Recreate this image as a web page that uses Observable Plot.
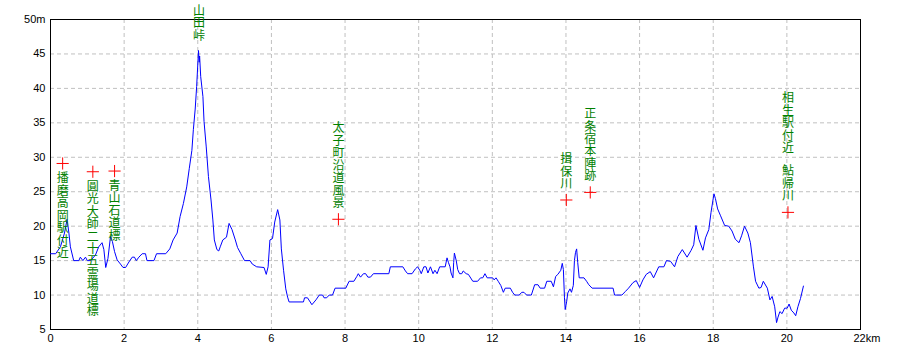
<!DOCTYPE html>
<html>
<head>
<meta charset="utf-8">
<script src="https://cdn.jsdelivr.net/npm/d3@7"></script>
<script src="https://cdn.jsdelivr.net/npm/@observablehq/plot@0.6"></script>
<style>
  html, body { margin: 0; padding: 0; background: #fff; }
  #chart svg { display: block; }
</style>
</head>
<body>
<div id="chart"></div>
<script>
// Distance along route (km)
const km = [
  0, 0.14, 0.27, 0.38, 0.45, 0.5, 0.54, 0.63, 0.77, 0.81, 0.88, 0.95, 1.0, 1.09, 1.22, 1.31, 1.4, 1.45, 1.5, 1.56,
  1.63, 1.68, 1.74, 1.81, 1.9, 1.97, 2.04, 2.13, 2.22, 2.28, 2.33, 2.4, 2.49, 2.58, 2.62, 2.81, 2.88, 3.13, 3.24, 3.33,
  3.44, 3.52, 3.61, 3.7, 3.77, 3.84, 3.88, 3.93, 3.97, 4.02, 4.04, 4.05, 4.08, 4.14, 4.17, 4.23, 4.29, 4.36, 4.41, 4.45,
  4.52, 4.57, 4.61, 4.68, 4.78, 4.85, 4.93, 5.02, 5.08, 5.17, 5.27, 5.42, 5.48, 5.6, 5.8, 5.86, 5.91, 5.96, 6.03, 6.09,
  6.17, 6.23, 6.27, 6.33, 6.39, 6.44, 6.48, 6.87, 6.9, 6.98, 7.1, 7.21, 7.3, 7.39, 7.43, 7.5, 7.57, 7.66, 7.73, 8.02,
  8.11, 8.24, 8.32, 8.36, 8.42, 8.5, 8.56, 8.62, 8.69, 8.77, 9.19, 9.23, 9.57, 9.64, 9.7, 9.82, 9.91, 9.97, 10.03, 10.07,
  10.14, 10.2, 10.25, 10.32, 10.39, 10.44, 10.5, 10.57, 10.72, 10.77, 10.81, 10.85, 10.88, 10.93, 10.95, 10.97, 11.02, 11.06, 11.11, 11.17,
  11.21, 11.29, 11.35, 11.47, 11.6, 11.68, 11.74, 11.8, 11.86, 12.01, 12.05, 12.1, 12.16, 12.23, 12.3, 12.35, 12.49, 12.55, 12.61, 12.73,
  12.8, 12.86, 12.93, 13.06, 13.15, 13.24, 13.3, 13.42, 13.48, 13.6, 13.66, 13.72, 13.78, 13.86, 13.9, 13.93, 13.96, 13.98, 14.02, 14.05,
  14.11, 14.15, 14.2, 14.23, 14.26, 14.29, 14.32, 14.36, 14.49, 14.56, 14.62, 14.71, 15.28, 15.32, 15.52, 15.61, 15.7, 15.82, 15.91, 16.0,
  16.09, 16.18, 16.29, 16.38, 16.52, 16.66, 16.73, 16.84, 16.95, 17.04, 17.16, 17.29, 17.4, 17.47, 17.53, 17.61, 17.72, 17.79, 17.88, 17.94,
  18.02, 18.06, 18.12, 18.2, 18.31, 18.42, 18.51, 18.6, 18.7, 18.77, 18.85, 18.94, 19.01, 19.09, 19.15, 19.24, 19.3, 19.36, 19.47, 19.54,
  19.6, 19.67, 19.72, 19.76, 19.81, 19.87, 19.94, 20.01, 20.06, 20.12, 20.19, 20.24, 20.3, 20.37, 20.45
];
// Elevation (m)
const elev = [
  16, 16, 17, 19, 21, 19, 17, 15, 15, 15.5, 15, 15.5, 15, 15, 15.8, 17, 17.6, 16.6, 14, 15.3,
  18.5, 17.8, 16.3, 15.1, 14.5, 14, 14, 14.8, 15.5, 15.5, 15, 15.5, 16, 16, 15, 15, 16, 16, 16.7, 18,
  19, 21.4, 23.3, 25.7, 28.4, 31, 34, 37, 40.3, 45.5, 43.8, 44.7, 41.7, 38.8, 35.2, 31.5, 27.2, 23.8, 20.9, 18,
  16.6, 16.4, 17, 18, 18.4, 20.4, 19.5, 18, 16.9, 16, 15, 15, 14.5, 14.1, 14, 13, 14.1, 18, 18.2, 20.6,
  22.4, 20.9, 16.7, 13.6, 10.9, 9.7, 9, 9, 9.6, 9.6, 8.6, 9.3, 10, 10, 9.6, 9.6, 10, 10, 11, 11,
  12, 12, 12.7, 13.1, 12.6, 13.1, 13.1, 12.6, 12.6, 13.1, 13.1, 14.1, 14.1, 13.5, 13.1, 13.1, 13.8, 14.1, 13.6, 13.1,
  14.1, 14.1, 13.2, 14.1, 13.1, 13.6, 13.1, 14.1, 14.1, 15.4, 14.7, 14.1, 13.2, 12.5, 14.7, 16.1, 15, 13.7, 13.1, 13.1,
  13.5, 13.1, 13, 12, 12, 12.5, 12.5, 13.1, 12.5, 12.5, 12.2, 12.5, 12, 11.4, 10.4, 11, 11, 10.4, 10, 10,
  10.4, 10.4, 10, 10, 11.5, 11.5, 11, 11, 12, 12, 11.2, 12.7, 13, 13.6, 14.6, 13.7, 9.6, 7.9, 9.1, 10.3,
  10.9, 10.4, 11.4, 15, 16.2, 16.7, 14.7, 12.5, 12.5, 12, 11.5, 11, 11, 10, 10, 10.5, 11, 11.8, 12.1, 11.1,
  12.2, 13, 13.4, 12.5, 14.1, 14.1, 15, 14.9, 14.1, 15.6, 16.6, 15.5, 16.5, 17.3, 20.1, 18.1, 16.5, 18.3, 19.5, 22,
  24.7, 24, 22.5, 21.5, 20.1, 20, 19.3, 18.1, 17.6, 18.6, 20, 19, 17.6, 14.2, 12, 11, 11.1, 12, 11, 9.3,
  9.8, 8.3, 6, 6.8, 7.6, 7.3, 8.1, 8.1, 8.7, 7.8, 7.4, 7, 8.3, 9.5, 11.3
];

// Landmarks
const placeNames = ["播磨高岡駅付近", "圓光大師二十五霊場道標", "青山石道標", "山田峠", "太子町沿道風景", "揖保川", "正条宿本陣跡", "相生駅付近", "鮎帰川"];
const placeKm    = [0.33, 1.15, 1.74, 4.03, 7.82, 14.01, 14.66, 20.03, 20.03];
const placeElev  = [29.1, 27.9, 28, 45.3, 21, 23.8, 24.9, 29, 22];
const placeSide  = ["below", "below", "below", "above", "above", "above", "above", "above", "above"];
const placeMark  = [true, true, true, false, true, true, true, false, true];

// Axis ticks
const xTicks = [0, 2, 4, 6, 8, 10, 12, 14, 16, 18, 20];
const xEndTick = [22];
const yTicks = [5, 10, 15, 20, 25, 30, 35, 40, 45, 50];
const xGrid = [2, 4, 6, 8, 10, 12, 14, 16, 18, 20];
const yGrid = [10, 15, 20, 25, 30, 35, 40, 45];

const profile = km.map((k, i) => ({km: k, elev: elev[i]}));
const places = placeNames.map((n, i) => ({
  name: n, km: placeKm[i], elev: placeElev[i], side: placeSide[i], mark: placeMark[i],
  vtext: Array.from(n).join("\n")
}));

const labelStyle = {fill: "#008000", fontSize: 12, lineHeight: 1.04, fontFamily: "'Noto Sans CJK JP', sans-serif"};

const chart = Plot.plot({
  width: 900,
  height: 360,
  marginLeft: 50,
  marginRight: 40,
  marginTop: 19,
  marginBottom: 31,
  style: {fontFamily: "'Liberation Sans', Arial, sans-serif", fontSize: "11px", background: "#fff", color: "#000"},
  x: {domain: [0, 22]},
  y: {domain: [5, 50]},
  marks: [
    Plot.gridX(xGrid, {stroke: "#c0c0c0", strokeOpacity: 1, strokeDasharray: "4,3"}),
    Plot.gridY(yGrid, {stroke: "#c0c0c0", strokeOpacity: 1, strokeDasharray: "4,3"}),
    Plot.frame({stroke: "#000", strokeWidth: 1}),
    Plot.line(profile, {x: "km", y: "elev", stroke: "#0000ff", strokeWidth: 1}),
    Plot.dot(places.filter(d => d.mark), {x: "km", y: "elev", symbol: "plus", r: 4, stroke: "#ff0000", strokeWidth: 1}),
    Plot.text(places.filter(d => d.side === "below"), {x: "km", y: "elev", text: "vtext", lineAnchor: "top", dy: 10, ...labelStyle}),
    Plot.text(places.filter(d => d.side === "above"), {x: "km", y: "elev", text: "vtext", lineAnchor: "bottom", dy: -12, ...labelStyle}),
    Plot.axisX(xTicks, {tickSize: 0, tickPadding: 5, label: null}),
    Plot.axisX(xEndTick, {tickSize: 0, tickPadding: 5, label: null, textAnchor: "start", dx: -7, tickFormat: d => d + "km"}),
    Plot.axisY(yTicks, {tickSize: 0, tickPadding: 5, label: null, tickFormat: d => d === 50 ? d + "m" : String(d)})
  ]
});
document.getElementById("chart").appendChild(chart);
</script>
</body>
</html>
